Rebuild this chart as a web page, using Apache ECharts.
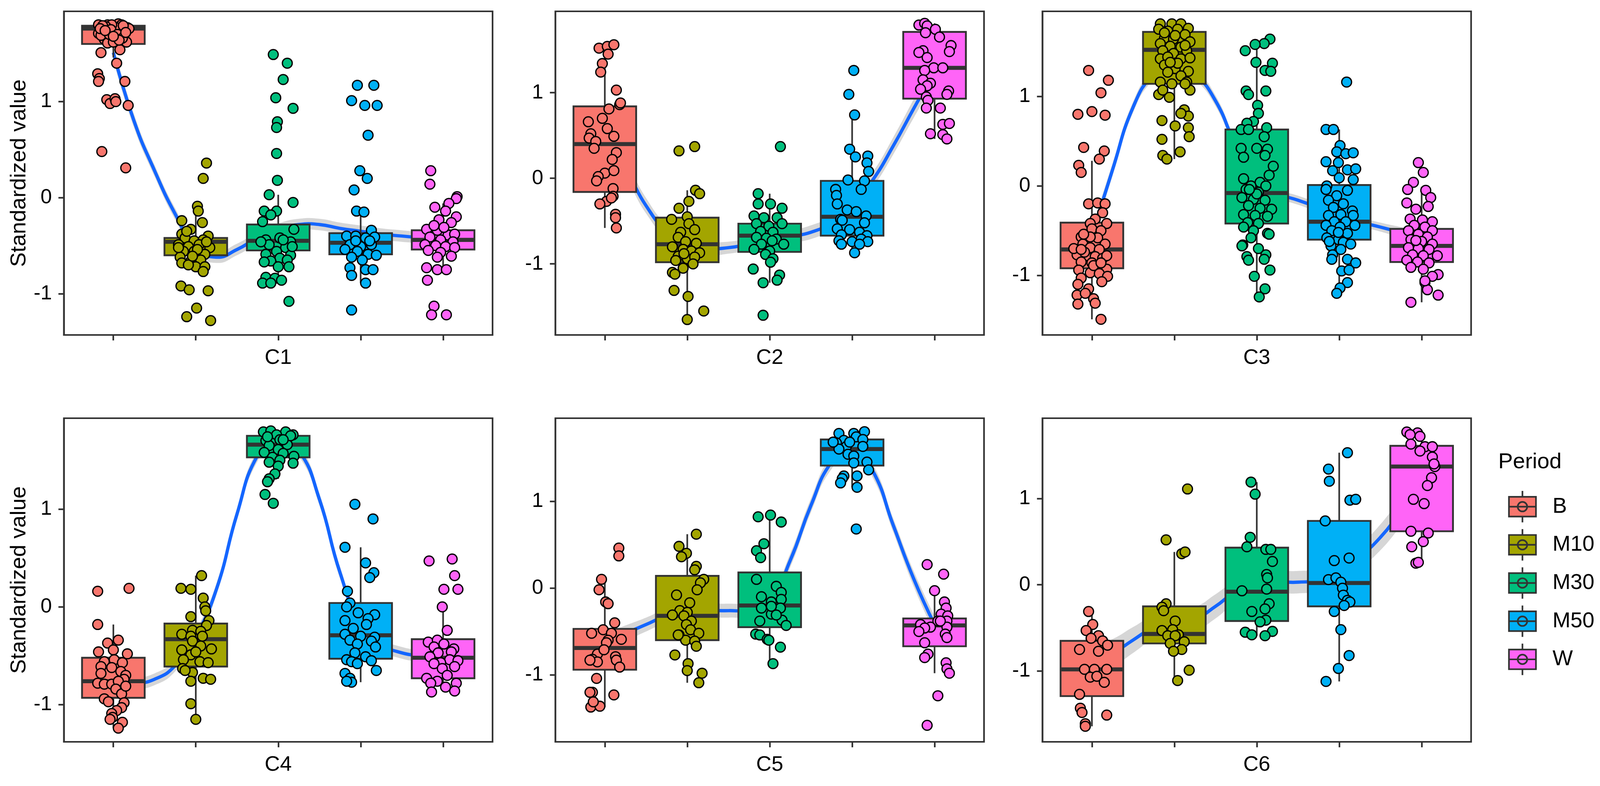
<!DOCTYPE html>
<html><head><meta charset="utf-8">
<script src="https://cdn.jsdelivr.net/npm/echarts@6/dist/echarts.min.js"></script>
<style>html,body{margin:0;padding:0;background:#fff;width:100%;height:100%;overflow:hidden}#c{width:100vw;height:100vh}</style>
</head><body><div id="c"></div>
<script>
const groups = ['B','M10','M30','M50','W'];
const colors = ['#F8766D','#A3A500','#00BF7D','#00B0F6','#FF64F7'];
const panels = ['C1','C2','C3','C4','C5','C6'];
const yTicks = [-1, 0, 1];
const xTicks = [1, 2, 3, 4, 5];
const smoothX = [1,1.25,1.5,1.75,2,2.25,2.5,2.75,3,3.25,3.5,3.75,4,4.25,4.5,4.75,5];

// y-axis limits
const yLimits = [[-1.43,1.94],[-1.83,1.95],[-1.665,1.95],[-1.38,1.93],[-1.77,1.955],[-1.82,1.93]];

// box statistics per group: [lower whisker, q1, median, q3, upper whisker]
const boxC1 = [[1.46,1.60,1.76,1.79,1.81],[-0.77,-0.60,-0.46,-0.42,-0.14],[-0.89,-0.55,-0.45,-0.28,0.03],[-0.89,-0.59,-0.47,-0.37,-0.14],[-0.75,-0.54,-0.44,-0.34,-0.06]];
const boxC2 = [[-0.58,-0.16,0.40,0.84,1.56],[-1.65,-0.98,-0.77,-0.46,-0.14],[-1.22,-0.86,-0.67,-0.53,-0.18],[-0.87,-0.67,-0.45,-0.03,0.74],[0.46,0.93,1.29,1.71,1.81]];
const boxC3 = [[-1.49,-0.92,-0.71,-0.41,0.28],[0.30,1.14,1.52,1.72,1.81],[-1.24,-0.42,-0.08,0.63,1.58],[-1.20,-0.60,-0.40,0.01,0.63],[-1.30,-0.85,-0.67,-0.48,-0.01]];
const boxC4 = [[-1.24,-0.93,-0.76,-0.52,-0.18],[-1.15,-0.61,-0.33,-0.17,0.32],[1.31,1.53,1.66,1.75,1.80],[-0.77,-0.53,-0.29,0.04,0.61],[-0.87,-0.73,-0.52,-0.33,0.0]];
const boxC5 = [[-1.37,-0.94,-0.69,-0.47,0.10],[-1.09,-0.60,-0.32,0.14,0.62],[-0.87,-0.45,-0.20,0.18,0.84],[1.16,1.41,1.60,1.71,1.80],[-0.98,-0.67,-0.43,-0.35,-0.03]];
const boxC6 = [[-1.64,-1.29,-0.98,-0.65,-0.31],[-1.11,-0.68,-0.57,-0.25,0.38],[-0.59,-0.42,-0.08,0.43,1.19],[-1.12,-0.25,0.02,0.74,1.53],[0.25,0.62,1.37,1.61,1.77]];

// loess curve (value at smoothX) and half-width of its confidence band
const smoothC1 = [1.51,0.80,0.28,-0.17,-0.52,-0.62,-0.54,-0.42,-0.33,-0.28,-0.28,-0.32,-0.35,-0.38,-0.40,-0.42,-0.44];
const smoothC2 = [0.40,0.10,-0.32,-0.62,-0.77,-0.82,-0.81,-0.77,-0.72,-0.68,-0.63,-0.52,-0.32,-0.02,0.38,0.82,1.25];
const smoothC3 = [-0.55,0.18,0.88,1.25,1.38,1.25,0.95,0.45,0.08,-0.08,-0.16,-0.24,-0.32,-0.40,-0.46,-0.52,-0.58];
const smoothC4 = [-0.76,-0.78,-0.74,-0.60,-0.30,0.18,0.95,1.55,1.72,1.60,1.10,0.35,-0.17,-0.38,-0.47,-0.50,-0.52];
const smoothC5 = [-0.62,-0.52,-0.42,-0.32,-0.28,-0.26,-0.26,-0.25,-0.15,0.32,0.95,1.45,1.62,1.35,0.72,0.10,-0.42];
const smoothC6 = [-0.92,-0.80,-0.64,-0.50,-0.45,-0.40,-0.25,-0.08,0.0,0.03,0.03,0.06,0.18,0.33,0.55,0.85,1.15];
const bandC1 = [0.08,0.07,0.06,0.06,0.06,0.06,0.06,0.06,0.06,0.06,0.06,0.06,0.06,0.06,0.06,0.06,0.07];
const bandC2 = [0.12,0.10,0.09,0.08,0.08,0.08,0.07,0.07,0.07,0.07,0.08,0.08,0.09,0.09,0.10,0.11,0.13];
const bandC3 = [0.08,0.07,0.06,0.06,0.06,0.06,0.06,0.06,0.06,0.05,0.05,0.05,0.05,0.05,0.05,0.06,0.07];
const bandC4 = [0.07,0.06,0.06,0.06,0.06,0.06,0.06,0.06,0.06,0.06,0.06,0.06,0.06,0.06,0.06,0.06,0.07];
const bandC5 = [0.10,0.09,0.08,0.08,0.08,0.08,0.08,0.08,0.08,0.08,0.08,0.08,0.08,0.08,0.08,0.09,0.10];
const bandC6 = [0.20,0.17,0.15,0.14,0.14,0.14,0.14,0.13,0.13,0.13,0.13,0.13,0.14,0.14,0.15,0.17,0.20];

// jittered points per group: [horizontal jitter, value]
const ptsC1 = [
 [[-0.15,1.51],[0.04,1.40],[-0.19,1.29],[-0.17,1.24],[-0.18,1.21],[0.14,1.21],[-0.08,1.02],[-0.04,0.98],[0.02,1.03],[0.03,1.00],[0.18,0.96],[-0.14,0.48],[0.15,0.31],[0.08,1.54],
  [-0.18,1.80],[-0.07,1.80],[0.01,1.78],[0.09,1.73],[-0.18,1.71],[-0.11,1.65],[-0.07,1.61],[0,1.62],[0.16,1.62],[0.17,1.77],[0.06,1.81],[0.10,1.80],[0.14,1.76],[0.03,1.77],[-0.12,1.72],[-0.15,1.69],[-0.05,1.70],[-0.02,1.80],[0.19,1.76],[-0.09,1.78],[-0.13,1.79],[0.12,1.79],[-0.03,1.75],[0.05,1.70],[0.11,1.66],[-0.16,1.76],[0.07,1.64],[-0.10,1.74],[0.15,1.72],[0.0,1.68]],
 [[0.13,0.36],[0.09,0.20],[0.02,-0.09],[0.03,-0.14],[-0.17,-0.24],[0.08,-0.26],[-0.06,-0.33],[-0.17,-0.38],[0.15,-0.40],[-0.13,-0.42],[-0.02,-0.45],[0.09,-0.44],[-0.21,-0.49],[-0.09,-0.51],[0.04,-0.49],[0.17,-0.52],[-0.15,-0.56],[-0.02,-0.56],[0.11,-0.59],[-0.19,-0.62],[-0.06,-0.66],[0.06,-0.65],[-0.17,-0.68],[0,-0.72],[0.11,-0.72],[0.09,-0.77],[-0.09,-0.70],[-0.18,-0.92],[-0.08,-0.96],[0.15,-0.97],[0.01,-1.15],[-0.11,-1.24],[0.18,-1.28],[-0.11,-0.35],[0.13,-0.46],[0.02,-0.54],[-0.04,-0.61],[-0.21,-0.52]],
 [[-0.06,1.49],[0.11,1.40],[0.06,1.23],[-0.03,1.04],[0.18,0.93],[-0.01,0.79],[-0.02,0.73],[-0.02,0.46],[-0.01,0.18],[-0.11,0.03],[0.18,-0.05],[-0.17,-0.14],[-0.02,-0.14],[-0.09,-0.18],[-0.19,-0.25],[0.19,-0.33],[-0.15,-0.44],[0.02,-0.42],[0.15,-0.46],[-0.11,-0.49],[0.09,-0.52],[-0.02,-0.56],[-0.15,-0.59],[0.15,-0.60],[0.02,-0.63],[-0.09,-0.66],[0.11,-0.65],[-0.17,-0.67],[0,-0.72],[0.13,-0.72],[-0.15,-0.83],[-0.04,-0.84],[0.04,-0.86],[-0.19,-0.89],[-0.09,-0.89],[0.13,-1.08],[0.06,-0.44],[-0.21,-0.46],[0.17,-0.51]],
 [[-0.04,1.17],[0.16,1.17],[-0.11,1.01],[0.05,0.96],[0.20,0.96],[0.09,0.65],[-0.01,0.28],[0.08,0.20],[-0.08,0.08],[-0.05,-0.14],[0.04,-0.15],[0.13,-0.34],[-0.17,-0.40],[-0.06,-0.40],[0.06,-0.42],[0.17,-0.41],[-0.13,-0.49],[0,-0.51],[0.13,-0.49],[-0.19,-0.54],[-0.04,-0.56],[0.09,-0.59],[0.19,-0.60],[-0.11,-0.62],[0.02,-0.65],[-0.13,-0.73],[0.06,-0.75],[0.15,-0.75],[-0.11,-0.81],[0.06,-0.89],[-0.11,-1.17],[-0.06,-0.45],[0.11,-0.45]],
 [[-0.15,0.28],[-0.16,0.14],[0.17,0.01],[0.16,-0.01],[-0.10,-0.10],[0.07,-0.06],[0.03,-0.14],[0.16,-0.20],[-0.05,-0.23],[0.10,-0.26],[-0.20,-0.33],[-0.07,-0.34],[0.06,-0.39],[0.14,-0.38],[-0.16,-0.41],[-0.03,-0.44],[0.12,-0.46],[-0.22,-0.49],[-0.09,-0.50],[0.03,-0.51],[0.14,-0.52],[-0.18,-0.55],[-0.03,-0.57],[0.10,-0.61],[-0.07,-0.62],[-0.20,-0.73],[-0.07,-0.75],[0.04,-0.75],[-0.19,-0.86],[-0.11,-1.13],[-0.14,-1.22],[0.04,-1.22],[0.01,-0.31],[-0.11,-0.29]]
];
const ptsC2 = [
 [[-0.07,1.52],[0.03,1.54],[0.11,1.56],[0.04,1.45],[-0.03,1.34],[-0.05,1.24],[0.14,1.03],[0.18,0.86],[0.19,0.88],[0.05,0.81],[-0.20,0.66],[-0.03,0.70],[0.03,0.58],[0.11,0.49],[-0.17,0.52],[-0.19,0.47],[-0.11,0.43],[-0.13,0.35],[0.14,0.30],[0.09,0.22],[0,0.06],[0.11,0.09],[-0.08,0.02],[-0.10,-0.03],[0.10,-0.12],[0.10,-0.21],[0.02,-0.27],[-0.06,-0.30],[0.13,-0.42],[0.13,-0.46],[0.14,-0.58],[0.08,-0.23]],
 [[-0.10,0.32],[0.09,0.37],[0.10,-0.14],[0.15,-0.18],[0.02,-0.27],[-0.10,-0.35],[-0.19,-0.48],[0,-0.45],[0.02,-0.53],[-0.08,-0.63],[0.09,-0.60],[-0.11,-0.69],[-0.02,-0.74],[0.11,-0.76],[-0.18,-0.80],[-0.05,-0.83],[0.05,-0.85],[0.15,-0.87],[-0.11,-0.91],[0,-0.94],[0.09,-0.92],[-0.14,-0.96],[0.07,-1.00],[-0.05,-1.05],[-0.18,-1.10],[-0.15,-1.12],[-0.16,-1.31],[0.01,-1.38],[0.20,-1.55],[0,-1.65],[-0.04,-0.88]],
 [[0.13,0.37],[-0.14,-0.18],[-0.14,-0.30],[0.01,-0.30],[0.15,-0.35],[-0.19,-0.44],[-0.07,-0.46],[0.09,-0.46],[-0.16,-0.53],[-0.01,-0.56],[0.15,-0.53],[-0.11,-0.62],[0.04,-0.63],[-0.16,-0.69],[-0.04,-0.70],[0.08,-0.71],[0.17,-0.77],[-0.10,-0.77],[-0.19,-0.83],[0,-0.85],[-0.05,-0.89],[0.04,-0.94],[0.01,-0.98],[-0.20,-1.06],[0.12,-1.13],[0.09,-1.19],[-0.08,-1.22],[-0.08,-1.60],[0.03,-0.73]],
 [[0.02,1.26],[-0.04,0.98],[0.03,0.74],[-0.03,0.34],[0.04,0.25],[0.19,0.26],[0.18,0.18],[0.20,0.08],[-0.05,-0.02],[0.15,-0.03],[0.11,-0.13],[-0.20,-0.13],[-0.19,-0.20],[-0.18,-0.30],[-0.06,-0.37],[0.05,-0.39],[0.17,-0.44],[-0.14,-0.48],[-0.12,-0.49],[0.15,-0.52],[-0.18,-0.59],[-0.03,-0.60],[0.09,-0.63],[-0.13,-0.66],[0.18,-0.67],[-0.16,-0.73],[0,-0.74],[0.11,-0.71],[0.19,-0.74],[-0.13,-0.77],[0.09,-0.77],[0.03,-0.87]],
 [[-0.19,1.79],[-0.12,1.81],[-0.09,1.78],[0.01,1.74],[-0.11,1.70],[0.06,1.65],[0.20,1.55],[-0.14,1.49],[0.18,1.48],[-0.19,1.47],[-0.09,1.41],[-0.01,1.29],[0.10,1.29],[-0.12,1.26],[-0.14,1.15],[-0.05,1.11],[-0.09,1.08],[-0.17,1.04],[0.17,1.02],[0.15,0.98],[-0.10,0.95],[-0.08,0.91],[-0.10,0.82],[0.07,0.82],[0.10,0.63],[0.18,0.64],[-0.05,0.52],[0.10,0.51],[0.15,0.46]]
];
const ptsC3 = [
 [[-0.04,1.29],[0.20,1.18],[0.11,1.04],[-0.17,0.80],[0,0.83],[0.16,0.79],[-0.10,0.43],[0.15,0.39],[0.09,0.30],[-0.16,0.23],[-0.13,0.15],[-0.04,-0.20],[0.07,-0.19],[0.16,-0.20],[0.13,-0.30],[0.04,-0.37],[-0.02,-0.42],[0.18,-0.42],[0,-0.48],[0.11,-0.50],[-0.13,-0.57],[0.07,-0.58],[0.16,-0.65],[-0.11,-0.65],[-0.02,-0.69],[0.09,-0.71],[-0.18,-0.77],[-0.07,-0.78],[0.04,-0.79],[0.13,-0.81],[-0.13,-0.85],[0,-0.86],[0.18,-0.93],[-0.16,-0.94],[-0.02,-0.97],[0.09,-0.98],[0.19,-1.01],[-0.13,-1.03],[0.12,-1.07],[-0.17,-1.10],[-0.04,-1.15],[-0.18,-1.22],[-0.08,-1.20],[0.02,-1.26],[0.04,-1.31],[-0.17,-1.32],[0.11,-1.49],[-0.09,-0.74],[0.02,-0.89],[-0.22,-0.70],[0.18,-0.78],[-0.13,-0.71],[-0.02,-0.57],[-0.10,-0.54],[0.11,-0.86]],
 [[-0.17,1.81],[-0.03,1.81],[0.08,1.81],[0.17,1.76],[-0.19,1.75],[-0.08,1.73],[0.04,1.75],[0.13,1.69],[-0.12,1.65],[-0.01,1.64],[0.19,1.61],[-0.17,1.59],[-0.05,1.56],[0.08,1.55],[-0.14,1.51],[0.15,1.51],[-0.01,1.48],[-0.17,1.42],[-0.08,1.44],[0.08,1.42],[0.19,1.43],[-0.12,1.35],[0.01,1.31],[0.17,1.28],[-0.08,1.27],[0.08,1.23],[-0.17,1.16],[0.15,1.16],[-0.03,1.14],[0.19,1.07],[-0.19,1.02],[-0.06,0.99],[0.13,1.14],[0.04,1.37],[0.12,0.85],[0.17,0.78],[0.08,0.81],[-0.15,0.73],[0.17,0.65],[0.01,0.67],[0.18,0.55],[-0.15,0.52],[-0.14,0.34],[-0.09,0.30],[0.07,0.38],[-0.12,1.71],[0.01,1.68],[0.13,1.57],[-0.05,1.38],[-0.14,1.07]],
 [[0.16,1.64],[0.09,1.59],[-0.02,1.58],[-0.14,1.51],[-0.01,1.38],[0.19,1.37],[0.10,1.29],[0.17,1.28],[-0.13,1.06],[-0.10,1.02],[0.11,1.06],[0.01,0.90],[0.02,0.81],[-0.04,0.72],[-0.12,0.70],[0.12,0.65],[-0.19,0.63],[-0.10,0.63],[0.09,0.55],[-0.19,0.42],[0,0.42],[0.13,0.41],[-0.16,0.32],[0.10,0.34],[0.20,0.22],[0.15,0.12],[-0.16,0.08],[0.04,0.04],[-0.07,0],[0.11,0],[-0.13,-0.04],[0.02,-0.07],[-0.18,-0.13],[-0.04,-0.15],[0.10,-0.16],[-0.10,-0.22],[0.04,-0.25],[0.18,-0.26],[-0.16,-0.32],[-0.02,-0.33],[0.13,-0.34],[-0.11,-0.41],[0.02,-0.42],[-0.16,-0.46],[-0.04,-0.50],[0.13,-0.53],[-0.07,-0.58],[-0.17,-0.66],[0.15,-0.54],[-0.18,-0.67],[0.02,-0.70],[0.11,-0.77],[-0.12,-0.79],[0.09,-0.82],[-0.10,-0.83],[0.16,-0.94],[-0.03,-1.01],[0.10,-1.15],[0.03,-1.24],[0,-0.09],[-0.09,-0.04]],
 [[0.09,1.16],[-0.16,0.63],[-0.07,0.63],[0.01,0.45],[-0.03,0.38],[0.08,0.36],[0.17,0.37],[-0.16,0.27],[-0.01,0.26],[0.10,0.18],[0.20,0.19],[-0.08,0.17],[0,0.09],[0.17,0.07],[-0.15,0],[-0.16,-0.04],[0.10,-0.05],[-0.03,-0.11],[-0.13,-0.16],[0.05,-0.20],[-0.07,-0.24],[0.16,-0.28],[0.02,-0.32],[-0.13,-0.33],[0.17,-0.33],[-0.06,-0.40],[0.08,-0.40],[-0.16,-0.44],[0.01,-0.46],[0.19,-0.44],[-0.09,-0.50],[0.10,-0.53],[-0.15,-0.58],[-0.01,-0.60],[0.05,-0.63],[-0.10,-0.67],[0.02,-0.71],[-0.08,-0.77],[0.10,-0.82],[0.20,-0.86],[-0.09,-0.82],[0.03,-0.95],[0.12,-0.94],[0.10,-1.08],[0.01,-1.14],[-0.03,-1.20],[-0.12,-0.62],[0.14,-0.65],[-0.01,-0.52]],
 [[-0.04,0.26],[0.02,0.15],[-0.10,0.04],[-0.17,-0.04],[0.05,-0.05],[0.11,-0.13],[-0.18,-0.19],[0.08,-0.23],[-0.07,-0.26],[-0.14,-0.37],[0.01,-0.38],[0.13,-0.40],[-0.09,-0.44],[0.04,-0.46],[-0.16,-0.50],[0.13,-0.50],[-0.04,-0.54],[0.07,-0.57],[-0.13,-0.60],[0,-0.62],[0.13,-0.65],[-0.16,-0.69],[-0.04,-0.70],[0.09,-0.71],[-0.11,-0.77],[0.02,-0.78],[0.19,-0.78],[-0.18,-0.83],[-0.05,-0.85],[0.09,-0.86],[-0.13,-0.91],[0.02,-0.93],[0.20,-0.99],[0.13,-1.01],[0.04,-1.08],[0.07,-1.16],[0.20,-1.22],[-0.13,-1.30],[0.04,-1.06],[-0.07,-0.61]]
];
const ptsC4 = [
 [[-0.19,0.16],[0.19,0.19],[-0.19,-0.18],[0.06,-0.34],[-0.07,-0.37],[0,-0.44],[-0.18,-0.46],[0.17,-0.48],[0.01,-0.54],[-0.11,-0.56],[0.11,-0.57],[-0.15,-0.61],[-0.02,-0.62],[0.09,-0.66],[0.15,-0.70],[0.13,-0.74],[-0.19,-0.78],[-0.11,-0.79],[-0.02,-0.79],[0.06,-0.76],[0.03,-0.84],[0.10,-0.89],[-0.11,-0.94],[-0.06,-0.97],[0.13,-0.98],[0.10,-1.03],[0.04,-1.06],[-0.02,-1.09],[-0.01,-1.13],[0.11,-1.18],[0.06,-1.24],[-0.04,-1.15],[-0.15,-0.68],[0.15,-0.81]],
 [[0.07,0.32],[-0.18,0.19],[-0.06,0.18],[0.09,0.09],[0.11,0],[0.12,-0.04],[-0.06,-0.10],[0.16,-0.14],[0.13,-0.19],[-0.04,-0.24],[0.06,-0.25],[-0.17,-0.28],[-0.06,-0.30],[0.08,-0.30],[-0.04,-0.35],[0.06,-0.40],[0.19,-0.43],[-0.17,-0.44],[-0.06,-0.49],[-0.15,-0.54],[0.05,-0.56],[0.15,-0.57],[-0.16,-0.63],[-0.04,-0.67],[-0.13,-0.65],[-0.06,-0.76],[0.09,-0.73],[0.18,-0.74],[-0.06,-0.99],[0,-1.15],[0,-0.46]],
 [[-0.18,1.79],[-0.09,1.80],[0.09,1.79],[0.18,1.76],[-0.02,1.76],[-0.15,1.70],[0.02,1.71],[0.11,1.66],[-0.11,1.65],[0,1.61],[-0.17,1.58],[0.06,1.57],[0.19,1.54],[-0.07,1.53],[0.02,1.50],[-0.11,1.48],[0.18,1.47],[0,1.44],[-0.04,1.36],[-0.11,1.31],[-0.13,1.28],[-0.16,1.15],[-0.06,1.06],[0.15,1.75],[0.06,1.71],[-0.13,1.74]],
 [[-0.07,1.05],[0.15,0.90],[-0.19,0.61],[0.06,0.45],[0.16,0.35],[0.11,0.30],[-0.16,0.16],[-0.13,0.04],[-0.17,0],[-0.03,-0.06],[0.17,-0.08],[0.09,-0.12],[-0.19,-0.14],[0.07,-0.18],[-0.09,-0.22],[-0.19,-0.28],[0,-0.30],[0.17,-0.31],[-0.13,-0.34],[0.13,-0.35],[-0.04,-0.38],[0.18,-0.41],[-0.07,-0.47],[0.06,-0.51],[-0.17,-0.54],[-0.11,-0.56],[-0.04,-0.58],[0.13,-0.55],[0.19,-0.65],[-0.19,-0.68],[-0.13,-0.73],[-0.11,-0.77],[-0.17,-0.76]],
 [[-0.17,0.47],[0.11,0.49],[0.14,0.32],[0.01,0.18],[0.18,0.18],[-0.01,0],[0.05,-0.24],[-0.18,-0.36],[-0.07,-0.34],[0.01,-0.38],[-0.11,-0.41],[0.13,-0.43],[0.10,-0.46],[-0.06,-0.47],[-0.16,-0.51],[0.08,-0.54],[0.18,-0.55],[-0.03,-0.57],[-0.11,-0.58],[0.14,-0.61],[-0.01,-0.63],[0.05,-0.70],[-0.20,-0.73],[-0.07,-0.76],[-0.15,-0.78],[0.03,-0.82],[0.16,-0.78],[0.14,-0.86],[-0.14,-0.87]]
];
const ptsC5 = [
 [[0.17,0.46],[0.17,0.37],[-0.04,0.10],[-0.07,-0.02],[0.01,-0.16],[0.04,-0.18],[0.12,-0.40],[-0.02,-0.48],[-0.16,-0.52],[0.08,-0.52],[0.04,-0.60],[0.20,-0.59],[0.02,-0.63],[-0.09,-0.76],[-0.15,-0.82],[0.13,-0.79],[0.14,-0.83],[-0.09,-0.85],[0.18,-0.91],[-0.18,-0.83],[-0.10,-1.04],[-0.15,-1.20],[-0.18,-1.20],[0.11,-1.23],[-0.17,-1.37],[-0.06,-1.36],[-0.14,-1.31],[-0.01,-0.71]],
 [[0.11,0.62],[-0.10,0.48],[-0.01,0.40],[-0.07,0.36],[0.11,0.25],[0.09,0.21],[0.20,0.10],[0.16,0.06],[0.12,-0.02],[-0.13,-0.08],[0.03,-0.17],[-0.09,-0.26],[0,-0.28],[-0.18,-0.31],[-0.04,-0.32],[0.05,-0.38],[-0.01,-0.42],[0.04,-0.48],[0.14,-0.52],[-0.10,-0.54],[-0.02,-0.60],[0.09,-0.61],[0.11,-0.67],[-0.15,-0.77],[0.01,-0.87],[0.18,-0.98],[0,-0.95],[0.14,-1.09],[-0.11,-0.54]],
 [[0.01,0.84],[-0.14,0.82],[0.14,0.76],[-0.07,0.51],[-0.16,0.43],[-0.11,0.35],[-0.16,0.10],[0.08,0.02],[0.14,-0.05],[-0.10,-0.10],[0.02,-0.16],[0.14,-0.13],[-0.10,-0.23],[0.13,-0.23],[0.02,-0.30],[-0.12,-0.38],[0.15,-0.37],[0.20,-0.43],[-0.17,-0.53],[-0.12,-0.54],[-0.03,-0.59],[-0.01,-0.60],[0.13,-0.68],[0.04,-0.87],[0.02,-0.21],[0.08,-0.31]],
 [[-0.16,1.78],[0.02,1.78],[0.15,1.80],[0.05,1.74],[-0.10,1.70],[0.13,1.71],[-0.19,1.67],[-0.07,1.63],[0.13,1.63],[-0.16,1.60],[-0.05,1.54],[0.02,1.52],[0.18,1.45],[0.02,1.44],[0.20,1.36],[-0.10,1.29],[-0.12,1.26],[0.06,1.29],[-0.14,1.21],[0.06,1.16],[0.05,0.68],[-0.03,1.68],[-0.23,1.68]],
 [[-0.09,0.27],[0.11,0.16],[0,-0.03],[0.12,-0.16],[0.14,-0.23],[0.08,-0.30],[0.16,-0.32],[0.04,-0.38],[0.15,-0.38],[-0.17,-0.42],[-0.05,-0.45],[0.15,-0.45],[-0.12,-0.46],[-0.19,-0.50],[0.13,-0.53],[0.15,-0.57],[-0.12,-0.63],[-0.08,-0.76],[-0.12,-0.80],[0.14,-0.86],[0.15,-0.93],[0.18,-0.98],[0.04,-1.24],[-0.09,-1.58],[0.07,-0.38]]
];
const ptsC6 = [
 [[-0.04,-0.31],[0.01,-0.46],[-0.07,-0.53],[0.08,-0.59],[-0.01,-0.62],[0.13,-0.65],[0.19,-0.70],[-0.15,-0.75],[0.08,-0.77],[-0.09,-0.98],[0.03,-0.98],[0.18,-0.98],[-0.02,-1.07],[0.06,-1.06],[0.15,-1.13],[-0.15,-1.27],[-0.14,-1.43],[-0.12,-1.48],[0.18,-1.51],[-0.08,-1.61],[-0.08,-1.64]],
 [[0.16,1.11],[-0.10,0.52],[0.09,0.36],[0.13,0.38],[-0.10,-0.22],[-0.15,-0.26],[-0.13,-0.30],[0.01,-0.42],[-0.15,-0.53],[-0.02,-0.52],[0.05,-0.58],[-0.08,-0.59],[0.01,-0.59],[-0.05,-0.68],[0.12,-0.66],[0.09,-0.75],[-0.01,-0.77],[0.18,-0.99],[0.04,-1.11]],
 [[-0.07,1.19],[-0.02,1.05],[-0.08,0.55],[-0.12,0.44],[0.11,0.41],[0.17,0.41],[0.19,0.27],[0.12,0.12],[0.13,0.08],[-0.18,-0.07],[0.12,-0.05],[0.15,-0.22],[0.10,-0.28],[-0.06,-0.31],[0.11,-0.41],[0.04,-0.43],[-0.14,-0.55],[-0.06,-0.58],[0.19,-0.54],[0.10,-0.59]],
 [[0.10,1.53],[-0.13,1.34],[-0.12,1.20],[0.13,0.98],[0.20,0.99],[-0.17,0.74],[-0.06,0.28],[0.12,0.31],[-0.13,0.06],[-0.04,0.08],[0.02,0.03],[0.04,-0.04],[0.05,-0.12],[0.10,-0.18],[0.13,-0.20],[0.06,-0.24],[-0.06,-0.31],[0.02,-0.52],[0.12,-0.82],[-0.01,-0.97],[-0.16,-1.12]],
 [[-0.18,1.77],[-0.05,1.76],[-0.14,1.74],[-0.02,1.72],[-0.13,1.63],[0.04,1.60],[0.13,1.60],[-0.02,1.55],[0.13,1.48],[0.16,1.37],[0.12,1.24],[0.07,1.15],[-0.10,0.99],[0.03,0.94],[-0.13,0.62],[0.08,0.60],[0.02,0.50],[-0.12,0.44],[-0.07,0.25],[-0.04,0.26],[0.15,1.40]]
];

const allBoxes = [boxC1, boxC2, boxC3, boxC4, boxC5, boxC6];
const allSmooth = [smoothC1, smoothC2, smoothC3, smoothC4, smoothC5, smoothC6];
const allBand = [bandC1, bandC2, bandC3, bandC4, bandC5, bandC6];
const allPts = [ptsC1, ptsC2, ptsC3, ptsC4, ptsC5, ptsC6];

// layout designed for a 4382 x 2011 canvas, scaled to the actual container
const el = document.getElementById('c');
const sx = (el.clientWidth || 4382) / 4382;
const sy = (el.clientHeight || 2011) / 2011;
const s = Math.min(sx, sy);
const X = v => v * sx, Y = v => v * sy, S = v => v * s;

const FONT = 'Liberation Sans, Arial, Helvetica, sans-serif';
const gridLefts = [175, 1521, 2855];
const gridTops = [29, 1070];
const gridW = 1174, gridH = 828;
const DARK = '#333333';

// bezier smoothing of a pixel polyline (same scheme as ECharts line smoothing)
function smoothPath(pts, smooth, start) {
  let d = (start || 'M') + pts[0][0].toFixed(2) + ',' + pts[0][1].toFixed(2);
  let cpx0 = pts[0][0], cpy0 = pts[0][1];
  for (let i = 1; i < pts.length; i++) {
    const x = pts[i][0], y = pts[i][1], px = pts[i - 1][0], py = pts[i - 1][1];
    let cpx1 = x, cpy1 = y, ncx = x, ncy = y;
    if (i + 1 < pts.length) {
      const nx = pts[i + 1][0], ny = pts[i + 1][1];
      const vx = nx - px, vy = ny - py;
      const l0 = Math.hypot(x - px, y - py), l1 = Math.hypot(nx - x, ny - y);
      const r = (l0 + l1) > 0 ? l1 / (l0 + l1) : 0.5;
      cpx1 = x - vx * smooth * (1 - r); cpy1 = y - vy * smooth * (1 - r);
      ncx = x + vx * smooth * r; ncy = y + vy * smooth * r;
    }
    d += 'C' + [cpx0, cpy0, cpx1, cpy1, x, y].map(v => v.toFixed(2)).join(',');
    cpx0 = ncx; cpy0 = ncy;
  }
  return d;
}

const grids = [], xAxes = [], yAxes = [], series = [];
panels.forEach((name, p) => {
  const col = p % 3, row = Math.floor(p / 3);
  grids.push({left: X(gridLefts[col]), top: Y(gridTops[row]), width: X(gridW), height: Y(gridH),
    show: true, borderColor: DARK, borderWidth: S(4.5), backgroundColor: 'rgba(0,0,0,0)', containLabel: false});
  xAxes.push({type: 'value', gridIndex: p, min: 0.4, max: 5.6,
    axisLine: {show: true, onZero: false, lineStyle: {color: DARK, width: S(4.5)}},
    axisTick: {show: true, customValues: xTicks, length: S(15), lineStyle: {color: DARK, width: S(4.5)}},
    axisLabel: {show: false}, splitLine: {show: false},
    name: name, nameLocation: 'middle', nameGap: S(34),
    nameTextStyle: {fontSize: S(58), color: '#000', fontFamily: FONT}});
  yAxes.push({type: 'value', gridIndex: p, min: yLimits[p][0], max: yLimits[p][1],
    axisLine: {show: true, onZero: false, lineStyle: {color: DARK, width: S(4.5)}},
    axisTick: {show: true, customValues: yTicks, length: S(15), lineStyle: {color: DARK, width: S(4.5)}},
    axisLabel: {show: true, customValues: yTicks, fontSize: S(56), color: '#000', fontFamily: FONT, margin: S(33),
      formatter: v => String(v)},
    splitLine: {show: false},
    name: col === 0 ? 'Standardized value' : '', nameLocation: 'middle', nameGap: S(92), nameRotate: 90,
    nameTextStyle: {fontSize: S(60), color: '#000', fontFamily: FONT}});

  const sm = allSmooth[p], bd = allBand[p];
  // loess curve with grey confidence band
  series.push({type: 'custom', name: 'loess' + p, xAxisIndex: p, yAxisIndex: p, z: 1, silent: true,
    encode: {x: 0, y: [1, 2, 3]},
    data: smoothX.map((x, i) => [x, sm[i], sm[i] - bd[i], sm[i] + bd[i]]),
    renderItem: function (params, api) {
      if (params.dataIndex !== 0) return null;
      const n = params.dataInsideLength;
      const mid = [], lo = [], hi = [];
      for (let i = 0; i < n; i++) {
        const x = api.value(0, i);
        mid.push(api.coord([x, api.value(1, i)]));
        lo.push(api.coord([x, api.value(2, i)]));
        hi.push(api.coord([x, api.value(3, i)]));
      }
      const bandD = smoothPath(hi, 0.5, 'M') + smoothPath(lo.slice().reverse(), 0.5, 'L') + 'Z';
      return {type: 'group', children: [
        {type: 'path', shape: {pathData: bandD}, style: {fill: 'rgba(153,153,153,0.4)', stroke: 'none'}},
        {type: 'path', shape: {pathData: smoothPath(mid, 0.5, 'M')},
          style: {fill: 'none', stroke: '#1466FF', lineWidth: S(9), lineJoin: 'round'}}
      ]};
    }});
  // boxes
  series.push({type: 'custom', name: 'box' + p, xAxisIndex: p, yAxisIndex: p, z: 3, silent: true,
    encode: {x: 0, y: [1, 2, 3, 4, 5]},
    data: allBoxes[p].map((b, i) => [i + 1].concat(b)),
    renderItem: function (params, api) {
      const gi = api.value(0);
      const pLo = api.coord([gi, api.value(1)]);
      const pQ1 = api.coord([gi, api.value(2)]);
      const pMd = api.coord([gi, api.value(3)]);
      const pQ3 = api.coord([gi, api.value(4)]);
      const pHi = api.coord([gi, api.value(5)]);
      const half = api.size([0.76, 0])[0] / 2;
      const cx = pMd[0];
      return {type: 'group', children: [
        {type: 'line', shape: {x1: cx, y1: pHi[1], x2: cx, y2: pQ3[1]}, style: {stroke: DARK, lineWidth: S(4.5)}},
        {type: 'line', shape: {x1: cx, y1: pQ1[1], x2: cx, y2: pLo[1]}, style: {stroke: DARK, lineWidth: S(4.5)}},
        {type: 'rect', shape: {x: cx - half, y: pQ3[1], width: 2 * half, height: pQ1[1] - pQ3[1]},
          style: {fill: colors[gi - 1], stroke: DARK, lineWidth: S(5)}},
        {type: 'line', shape: {x1: cx - half, y1: pMd[1], x2: cx + half, y2: pMd[1]}, style: {stroke: DARK, lineWidth: S(11)}}
      ]};
    }});
  // jittered points
  groups.forEach((g, gi) => {
    series.push({type: 'scatter', name: g, xAxisIndex: p, yAxisIndex: p, z: 4,
      symbol: 'circle', symbolSize: S(27),
      itemStyle: {color: colors[gi], borderColor: '#000', borderWidth: S(3.5), opacity: 1},
      data: allPts[p][gi].map(pt => [gi + 1 + pt[0], pt[1]])});
  });
});

const legendIcon = 'path://M39,0L39,16M2,16L76,16L76,70L2,70ZM2,43L76,43M39,70L39,86M26,43A13,13,0,1,1,52,43A13,13,0,1,1,26,43Z';

const chart = echarts.init(el, null, {renderer: 'canvas'});
chart.setOption({
  backgroundColor: '#ffffff',
  animation: false,
  title: {text: 'Period', left: X(4098), top: Y(1150),
    textStyle: {fontSize: S(60), fontWeight: 'normal', color: '#000', fontFamily: FONT}},
  legend: {data: groups, orient: 'vertical', left: X(4125), top: Y(1249),
    itemWidth: S(78), itemHeight: S(86), itemGap: S(14), icon: legendIcon, selectedMode: false,
    itemStyle: {borderColor: DARK, borderWidth: S(4.5)},
    textStyle: {fontSize: S(59), color: '#000', fontFamily: FONT, padding: [0, 0, 0, S(38)]}},
  grid: grids, xAxis: xAxes, yAxis: yAxes, series: series
});
</script></body></html>
